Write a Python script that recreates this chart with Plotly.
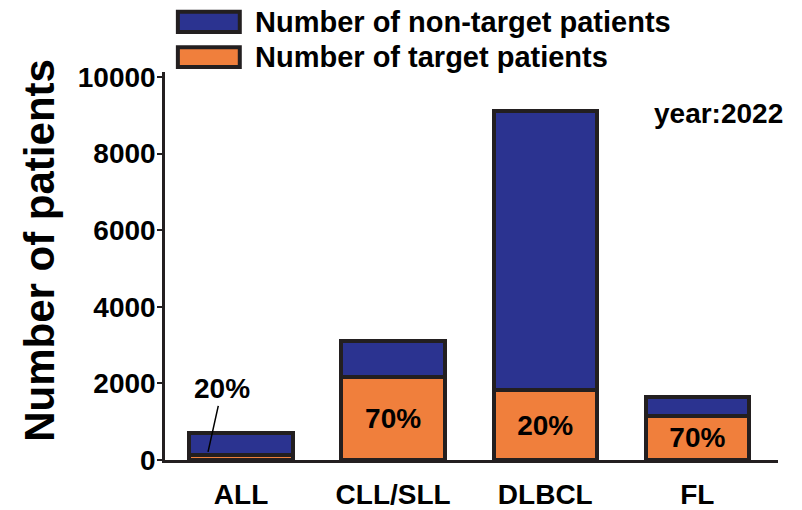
import plotly.graph_objects as go

categories = ["ALL", "CLL/SLL", "DLBCL", "FL"]
target = [140, 2170, 1820, 1160]
non_target = [560, 930, 7280, 490]
pct_labels = ["20%", "70%", "20%", "70%"]
y_ticks = [0, 2000, 4000, 6000, 8000, 10000]

blue = "#2b3390"
orange = "#f07f3c"
edge = "#231f20"
font = "Arial, Liberation Sans, sans-serif"

inside_text = [""] + ["<b>" + p + "</b>" for p in pct_labels[1:]]  # ALL label sits above the bar

fig = go.Figure()
fig.add_trace(go.Bar(x=categories, y=target, name="Number of target patients",
                     marker=dict(color=orange, line=dict(color=edge, width=4)),
                     text=inside_text, textposition="inside", insidetextanchor="middle",
                     textfont=dict(family=font, size=28, color="black"),
                     showlegend=False))
fig.add_trace(go.Bar(x=categories, y=non_target, name="Number of non-target patients",
                     marker=dict(color=blue, line=dict(color=edge, width=4)),
                     showlegend=False))

# ALL percentage with leader line
fig.add_annotation(x=categories[0], y=target[0] * 1.5, xshift=-33, text="<b>" + pct_labels[0] + "</b>",
                   showarrow=True, arrowhead=0, arrowwidth=1.5, arrowcolor="black",
                   ax=14, ay=-63, font=dict(family=font, size=28, color="black"))

fig.add_annotation(x=1.012, y=0.894, xref="paper", yref="paper", text="<b>year:2022</b>",
                   showarrow=False, xanchor="right", yanchor="middle",
                   font=dict(family=font, size=28, color="black"))

# y title as annotation (sits a bit above the plot centre in the original)
fig.add_annotation(x=-0.205, y=0.54, xref="paper", yref="paper", text="<b>Number of patients</b>",
                   textangle=-90, showarrow=False, xanchor="center", yanchor="middle",
                   font=dict(family=font, size=42, color="black"))

# hand-drawn legend (wide swatches)
legend_items = [("Number of non-target patients", blue, 1.155, 1.103),
                ("Number of target patients", orange, 1.064, 1.013)]
for label, col, y1, y0 in legend_items:
    fig.add_shape(type="rect", xref="paper", yref="paper", x0=0.021, x1=0.122, y0=y0, y1=y1,
                  fillcolor=col, line=dict(color=edge, width=4))
    fig.add_annotation(x=0.143, y=(y0 + y1) / 2, xref="paper", yref="paper", text="<b>" + label + "</b>",
                       showarrow=False, xanchor="left", yanchor="middle",
                       font=dict(family=font, size=29, color="black"))

fig.update_layout(
    barmode="stack", bargap=0.32,
    width=802, height=510,
    margin=dict(l=165, r=24, t=72, b=50),
    plot_bgcolor="white", paper_bgcolor="white",
    font=dict(family=font, color="black"),
)
fig.update_xaxes(range=[-0.5, 3.53], showline=True, linecolor=edge, linewidth=2.5, automargin=False,
                 ticks="", tickfont=dict(family=font, size=28, color="black"),
                 ticklabelstandoff=8,
                 tickvals=categories, ticktext=["<b>" + c + "</b>" for c in categories])
fig.update_yaxes(range=[0, 10130], showline=True, linecolor=edge, linewidth=2.5, automargin=False,
                 ticks="outside", ticklen=5, tickwidth=2, tickcolor=edge, showgrid=False, zeroline=False,
                 ticklabelstandoff=-4,
                 tickvals=y_ticks, ticktext=["<b>" + str(v) + "</b>" for v in y_ticks],
                 tickfont=dict(family=font, size=28, color="black"))

# drop the browser's default 8px body margin so the figure fills the window
fig.write_html("out.html", config={"displayModeBar": False},
               post_script="document.body.style.margin='0';")
